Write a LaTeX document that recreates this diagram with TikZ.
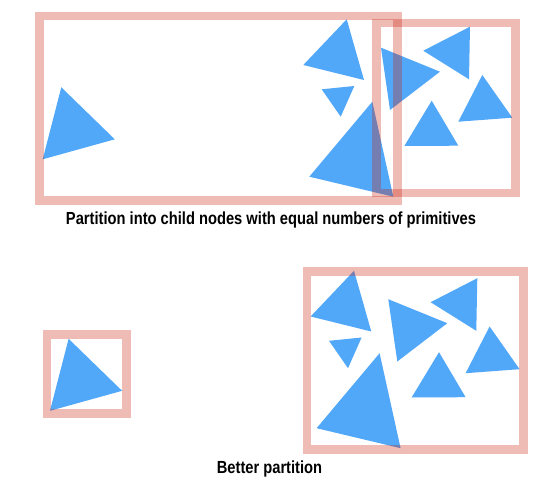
\documentclass[tikz,border=0pt]{standalone}
\usepackage{fontspec}
\newfontfamily\captionfont[FakeStretch=0.84]{Liberation Sans}
\usepackage{xcolor}
\definecolor{primblue}{RGB}{82,168,248}
\definecolor{cellred}{RGB}{200,30,10}
\begin{document}
\begin{tikzpicture}[x=1pt, y=-1pt,
		prim/.style={fill=primblue},
		cell/.style={draw=cellred, draw opacity=0.3, line width=8.5pt},
		caption/.style={anchor=base, font={\captionfont\bfseries\fontsize{17.5}{20}\selectfont}}]
	\useasboundingbox (0,0) rectangle (546,481);
	
	% equal counts split
	\begin{scope}
		\fill[prim] (61.3,87.3) -- (114.8,139.3) -- (42.7,159.3) -- cycle;
		\fill[prim] (346.7,19.3) -- (364,80) -- (303.3,65) -- cycle;
		\fill[prim] (321.7,89.3) -- (354.3,86) -- (340.7,116.7) -- cycle;
		\fill[prim] (372.3,101.7) -- (393.3,196.7) -- (309.3,176.7) -- cycle;
		\fill[prim] (381,47.7) -- (440,71.7) -- (390,110) -- cycle;
		\fill[prim] (470,26.7) -- (469,79.3) -- (423.3,50.7) -- cycle;
		\fill[prim] (482.3,75) -- (512.3,117.7) -- (458.3,121.7) -- cycle;
		\fill[prim] (431.7,100.7) -- (458.3,145.7) -- (404.3,146) -- cycle;
		
		\draw[cell] (39.3,15.8) rectangle (397.5,200.3);
		\draw[cell] (376.7,23.2) rectangle (515.3,193.2);
		
		\node[caption] (top caption) at (271,224.3) {Partition into child nodes with equal numbers of primitives};
	\end{scope}
	
	% better split
	\begin{scope}[shift={(7.3,251.5)}]
		\fill[prim] (61.3,87.3) -- (114.8,139.3) -- (42.7,159.3) -- cycle;
		\fill[prim] (346.7,19.3) -- (364,80) -- (303.3,65) -- cycle;
		\fill[prim] (321.7,89.3) -- (354.3,86) -- (340.7,116.7) -- cycle;
		\fill[prim] (372.3,101.7) -- (393.3,196.7) -- (309.3,176.7) -- cycle;
		\fill[prim] (381,47.7) -- (440,71.7) -- (390,110) -- cycle;
		\fill[prim] (470,26.7) -- (469,79.3) -- (423.3,50.7) -- cycle;
		\fill[prim] (482.3,75) -- (512.3,117.7) -- (458.3,121.7) -- cycle;
		\fill[prim] (431.7,100.7) -- (458.3,145.7) -- (404.3,146) -- cycle;
		
		\draw[cell] (39.9,83) rectangle (119.4,162);
		\draw[cell] (299.9,20) rectangle (516,198);
		
		\node[caption] (bottom caption) at (262.2,221.5) {Better partition};
	\end{scope}
\end{tikzpicture}
\end{document}
